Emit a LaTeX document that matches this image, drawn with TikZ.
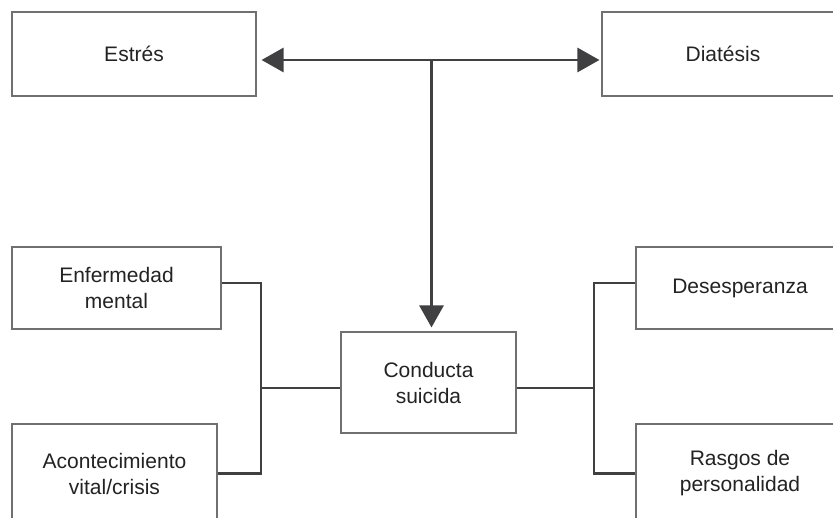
\documentclass[tikz,border=0pt]{standalone}
\usepackage{fontspec}
\setmainfont{Liberation Sans}
\usetikzlibrary{arrows.meta}
\definecolor{boxline}{RGB}{112,112,112}
\definecolor{arrowcol}{RGB}{64,64,66}
\definecolor{txtcol}{RGB}{35,35,35}
\tikzset{
  box/.style={draw=boxline, line width=1.1pt, rectangle, inner sep=0pt, align=center,
    text=txtcol, font=\fontsize{21}{26}\selectfont},
  conn/.style={draw=arrowcol, line width=2.8pt},
  arr/.style={draw=arrowcol, line width=2.8pt,
    arrows={-Triangle[length=22pt,width=24pt,fill=arrowcol]}},
  biarr/.style={draw=arrowcol, line width=2.8pt,
    arrows={Triangle[length=22pt,width=24pt,fill=arrowcol]-Triangle[length=22pt,width=24pt,fill=arrowcol]}}
}
\begin{document}
\begin{tikzpicture}[x=1pt,y=-1pt]
\useasboundingbox (0,0) rectangle (833,518);
\clip (0,0) rectangle (833,518);
\fill[white] (0,0) rectangle (833,518);

\node[box, minimum width=244pt, minimum height=84pt] (estres) at (134,54) {Estrés};
\node[box, minimum width=242pt, minimum height=84pt] (diatesis) at (723,54) {Diatésis};
\node[box, minimum width=209pt, minimum height=82pt] (enf) at (116.5,288) {Enfermedad\\mental};
\node[box, minimum width=205pt, minimum height=99pt] (acon) at (114.5,473.5) {Acontecimiento\\vital/crisis};
\node[box, minimum width=175pt, minimum height=101pt] (cond) at (428.5,382.5) {Conducta\\suicida};
\node[box, minimum width=208pt, minimum height=82pt] (des) at (740,288) {Desesperanza};
\node[box, minimum width=208pt, minimum height=99pt] (ras) at (740,473.5) {Rasgos de\\personalidad};

\coordinate (j) at (431.5,60);
\coordinate (lb) at (261,388);
\coordinate (rb) at (594,388);

\draw[biarr, shorten <=5pt, shorten >=2pt] (estres.east |- j) -- (diatesis.west |- j);
\draw[arr, shorten >=4pt] (j) -- (j |- cond.north);

\draw[conn] ([yshift=5pt]enf.east) -| (lb) |- (acon.east);
\draw[conn] (lb) -- (cond.west |- lb);
\draw[conn] (cond.east |- rb) -- (rb);
\draw[conn] ([yshift=5pt]des.west) -| (rb) |- (ras.west);
\end{tikzpicture}
\end{document}
